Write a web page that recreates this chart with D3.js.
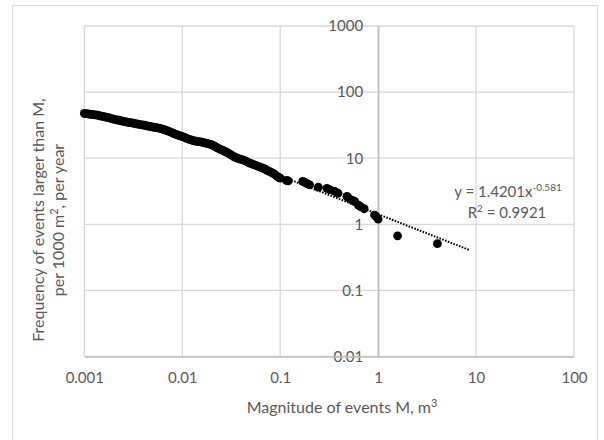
<!DOCTYPE html>
<html>
<head>
<meta charset="utf-8">
<script src="https://cdn.jsdelivr.net/npm/d3@7"></script>
<style>
  html, body { margin: 0; padding: 0; background: #fff; }
  svg { display: block; font-family: Lato, "Open Sans", sans-serif; }
</style>
</head>
<body>
<svg id="chart" width="604" height="440"></svg>
<script>
// Event magnitude M (m^3) and exceedance frequency (per 1000 m^2 per year)
const magnitude = [
  0.00100, 0.00104, 0.00109, 0.00113, 0.00118, 0.00124, 0.00130, 0.00136, 0.00142, 0.00148,
  0.00155, 0.00163, 0.00170, 0.00178, 0.00186, 0.00195, 0.00204, 0.00214, 0.00224, 0.00234,
  0.00245, 0.00257, 0.00269, 0.00282, 0.00295, 0.00309, 0.00324, 0.00339, 0.00355, 0.00372,
  0.00390, 0.00408, 0.00427, 0.00447, 0.00468, 0.00490, 0.00513, 0.00537, 0.00562, 0.00589,
  0.00617, 0.00646, 0.00676, 0.00708, 0.00741, 0.00776, 0.00813, 0.00851, 0.00891, 0.00933,
  0.00977, 0.0102, 0.0107, 0.0112, 0.0118, 0.0123, 0.0129, 0.0135, 0.0141, 0.0148,
  0.0155, 0.0162, 0.0170, 0.0178, 0.0186, 0.0195, 0.0204, 0.0214, 0.0224, 0.0234,
  0.0245, 0.0257, 0.0269, 0.0282, 0.0295, 0.0309, 0.0324, 0.0339, 0.0355, 0.0372,
  0.0390, 0.0408, 0.0427, 0.0447, 0.0468, 0.0490, 0.0513, 0.0537, 0.0562, 0.0589,
  0.0617, 0.0646, 0.0676, 0.0708, 0.0741, 0.0776, 0.0813, 0.0851, 0.0891, 0.0933,
  0.0977, 0.100, 0.116, 0.121, 0.170, 0.178, 0.190, 0.200, 0.245, 0.300,
  0.320, 0.360, 0.390, 0.480, 0.500, 0.550, 0.580, 0.630, 0.660, 0.720,
  0.920, 0.960, 1.00, 1.58, 4.03
];
const frequency = [
  47.5, 47.1, 46.8, 46.4, 46.1, 45.6, 45.1, 44.7, 44.0, 43.4,
  42.9, 42.3, 41.6, 41.0, 40.1, 39.4, 38.8, 38.1, 37.5, 37.0,
  36.4, 35.8, 35.3, 34.9, 34.6, 34.1, 33.6, 33.1, 32.7, 32.3,
  31.9, 31.5, 31.0, 30.6, 30.2, 29.8, 29.4, 29.0, 28.7, 28.3,
  27.8, 27.2, 26.6, 25.9, 25.2, 24.5, 23.8, 23.1, 22.5, 22.0,
  21.5, 21.0, 20.4, 19.8, 19.3, 18.9, 18.5, 18.2, 18.0, 17.8,
  17.6, 17.3, 17.0, 16.8, 16.5, 16.2, 15.7, 15.2, 14.6, 14.1,
  13.6, 13.2, 12.8, 12.4, 11.9, 11.4, 10.9, 10.5, 10.2, 9.9,
  9.7, 9.5, 9.3, 9.0, 8.7, 8.4, 8.2, 8.0, 7.8, 7.6,
  7.4, 7.2, 7.0, 6.8, 6.5, 6.3, 6.1, 5.9, 5.6, 5.3,
  5.1, 5.0, 4.6, 4.55, 4.45, 4.3, 4.1, 3.95, 3.65, 3.5,
  3.35, 3.15, 2.95, 2.65, 2.5, 2.3, 2.2, 1.95, 1.85, 1.72,
  1.38, 1.3, 1.2, 0.67, 0.51
];

// Power-law trendline y = a * x^b fitted to the tail
const trendCoef = [1.4201, -0.581];
const trendRange = [0.1, 8.6];
const trendLabel = ["y = 1.4201x", "-0.581", "R", "2", " = 0.9921"];

const xTicks = [0.001, 0.01, 0.1, 1, 10, 100];
const xTickLabels = ["0.001", "0.01", "0.1", "1", "10", "100"];
const yTicks = [0.01, 0.1, 1, 10, 100, 1000];
const yTickLabels = ["0.01", "0.1", "1", "10", "100", "1000"];

const svg = d3.select("#chart");
const textColor = "#595959";

// chart frame
svg.append("rect")
  .attr("x", 12.5).attr("y", 5.5)
  .attr("width", 585).attr("height", 460)
  .attr("fill", "#fff").attr("stroke", "#d9d9d9").attr("stroke-width", 1);

const x = d3.scaleLog().domain([0.001, 100]).range([84.3, 574]);
const y = d3.scaleLog().domain([0.01, 1000]).range([356.5, 26]);

// gridlines
const grid = svg.append("g").attr("stroke", "#d9d9d9").attr("stroke-width", 1.3);
grid.selectAll("line.gx").data(xTicks).join("line")
  .attr("class", "gx")
  .attr("x1", d => x(d)).attr("x2", d => x(d))
  .attr("y1", y(1000)).attr("y2", y(0.01));
grid.selectAll("line.gy").data(yTicks).join("line")
  .attr("class", "gy")
  .attr("x1", x(0.001)).attr("x2", x(100))
  .attr("y1", d => y(d)).attr("y2", d => y(d));

// vertical axis crossing at M = 1
const yAxis = d3.axisLeft(y)
  .tickValues(yTicks)
  .tickSize(0)
  .tickPadding(15)
  .tickFormat((d, i) => yTickLabels[i]);
const gy = svg.append("g")
  .attr("transform", `translate(${x(1)},0)`)
  .call(yAxis);
gy.select(".domain").attr("stroke", "#bfbfbf").attr("stroke-width", 1.6);
gy.selectAll("text").attr("fill", textColor).attr("font-size", 15)
  .attr("font-family", "Lato, sans-serif");

// horizontal axis along the bottom
const xAxis = d3.axisBottom(x)
  .tickValues(xTicks)
  .tickSize(0)
  .tickPadding(16)
  .tickFormat((d, i) => xTickLabels[i]);
const gx = svg.append("g")
  .attr("transform", `translate(0,${y(0.01)})`)
  .call(xAxis);
gx.select(".domain").attr("stroke", "#bfbfbf").attr("stroke-width", 1.3);
gx.selectAll("text").attr("fill", textColor).attr("font-size", 15)
  .attr("font-family", "Lato, sans-serif");

// trendline (dotted)
const trendPts = trendRange.map(m => [m, trendCoef[0] * Math.pow(m, trendCoef[1])]);
svg.append("path")
  .datum(trendPts)
  .attr("fill", "none")
  .attr("stroke", "#000")
  .attr("stroke-width", 2)
  .attr("stroke-dasharray", "1.6 1.4")
  .attr("d", d3.line().x(d => x(d[0])).y(d => y(d[1])));

// data points
const pts = magnitude.map((m, i) => ({ m, f: frequency[i] }));
svg.append("g").selectAll("circle").data(pts).join("circle")
  .attr("cx", d => x(d.m))
  .attr("cy", d => y(d.f))
  .attr("r", 4.4)
  .attr("fill", "#000");

// trendline equation
const eq = svg.append("text")
  .attr("x", 508).attr("y", 197)
  .attr("text-anchor", "middle")
  .attr("fill", textColor)
  .attr("font-size", 15);
eq.append("tspan").text(trendLabel[0]);
eq.append("tspan").attr("dy", -6).attr("font-size", 10).text(trendLabel[1]);

const r2 = svg.append("text")
  .attr("x", 507).attr("y", 218)
  .attr("text-anchor", "middle")
  .attr("fill", textColor)
  .attr("font-size", 15);
r2.append("tspan").text(trendLabel[2]);
r2.append("tspan").attr("dy", -6).attr("font-size", 10).text(trendLabel[3]);
r2.append("tspan").attr("dy", 6).text(trendLabel[4]);

// axis titles
const xt = svg.append("text")
  .attr("x", 342).attr("y", 413)
  .attr("text-anchor", "middle")
  .attr("fill", textColor)
  .attr("font-size", 16);
xt.append("tspan").text("Magnitude of events M, m");
xt.append("tspan").attr("dy", -6).attr("font-size", 11).text("3");

const yt = svg.append("text")
  .attr("transform", "translate(44,220) rotate(-90)")
  .attr("text-anchor", "middle")
  .attr("fill", textColor)
  .attr("font-size", 16);
yt.append("tspan").attr("x", 0).attr("y", 0).text("Frequency of events larger than M,");
const yt2 = svg.append("text")
  .attr("transform", "translate(64,220) rotate(-90)")
  .attr("text-anchor", "middle")
  .attr("fill", textColor)
  .attr("font-size", 16);
yt2.append("tspan").text("per 1000 m");
yt2.append("tspan").attr("dy", -6).attr("font-size", 11).text("2");
yt2.append("tspan").attr("dy", 6).text(", per year");
</script>
</body>
</html>
